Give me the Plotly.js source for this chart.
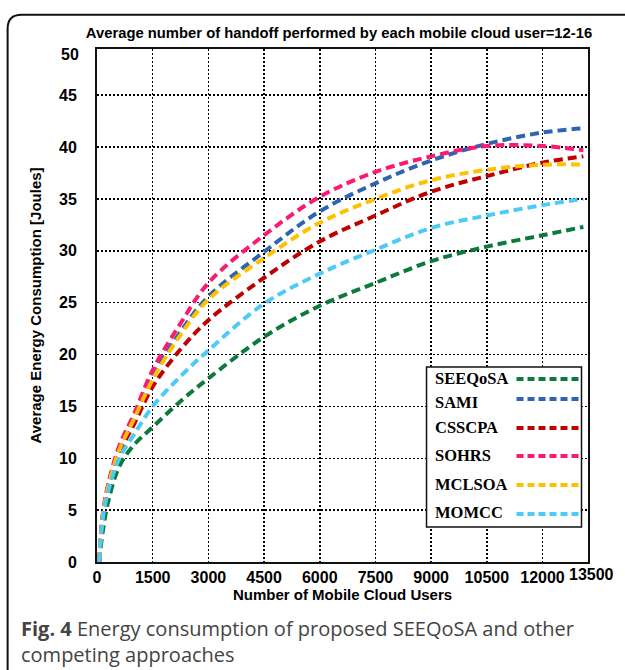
<!DOCTYPE html>
<html>
<head>
<meta charset="utf-8">
<script src="https://cdn.plot.ly/plotly-3.0.1.min.js"></script>
<style>html,body{margin:0;padding:0;background:#fff;}#chart{width:625px;height:670px;}</style>
</head>
<body>
<div id="chart"></div>
<script>
// ---- data ----
const users = [60, 150, 300, 600, 1000, 1500, 2250, 3000, 4500, 6000, 7500, 9000, 10500, 12000, 13100];
const seeqosa = [0, 2.8, 5.8, 9.2, 11.3, 13.0, 15.5, 17.7, 21.7, 24.7, 26.9, 29.0, 30.4, 31.5, 32.3];
const sami    = [0, 4.3, 7.3, 10.9, 14.0, 17.9, 22.2, 25.6, 29.9, 33.8, 36.5, 38.7, 40.3, 41.4, 41.8];
const csscpa  = [0, 4.2, 7.0, 10.5, 13.3, 16.9, 20.5, 23.3, 27.4, 30.9, 33.4, 35.7, 37.2, 38.5, 39.1];
const sohrs   = [0, 4.5, 7.5, 11.2, 14.3, 18.5, 23.0, 26.9, 31.5, 35.2, 37.6, 39.1, 40.1, 40.1, 39.7];
const mclsoa  = [0, 4.3, 7.2, 10.8, 13.8, 17.6, 21.9, 25.3, 29.3, 32.7, 35.0, 36.8, 37.8, 38.3, 38.3];
const momcc   = [0, 4.0, 6.8, 10.0, 12.3, 15.0, 17.9, 20.4, 24.9, 27.8, 30.1, 32.2, 33.4, 34.4, 35.0];

const seriesNames = ['SEEQoSA', 'SAMI', 'CSSCPA', 'SOHRS', 'MCLSOA', 'MOMCC'];
const seriesValues = [seeqosa, sami, csscpa, sohrs, mclsoa, momcc];
const seriesColors = ['#0b7a3b', '#2f64b0', '#c00000', '#fb1a72', '#ffc000', '#4ccbf8'];

const xTickVals = [0, 1500, 3000, 4500, 6000, 7500, 9000, 10500, 12000];
const xTickText = ['0', '1500', '3000', '4500', '6000', '7500', '9000', '10500', '12000'];
const xLastTick = '13500';
const yTickVals = [0, 5, 10, 15, 20, 25, 30, 35, 40, 45];
const yTickText = ['0', '5', '10', '15', '20', '25', '30', '35', '40', '45'];
const yLastTick = '50';

const titleText = 'Average number of handoff performed by each mobile cloud user=12-16';
const xTitle = 'Number of Mobile Cloud Users';
const yTitle = 'Average Energy Consumption [Joules]';
const captionText = '<b>Fig. 4</b> Energy consumption of proposed SEEQoSA and other<br>competing approaches';

// ---- layout geometry (pixels) ----
const W = 625, H = 670;
const L = 97.4, R = 588.5, T = 49.3, B = 562;
const px2x = p => (p - L) / (R - L);
const px2y = p => (B - p) / (B - T);

const SANS = '"Liberation Sans", Arial, sans-serif';
const dashStyle = '9px,5px';
const legDash = '7px,4px';

const traces = seriesNames.map((name, i) => ({
  type: 'scatter', mode: 'lines', name: name,
  x: users, y: seriesValues[i],
  line: {color: seriesColors[i], width: 4, dash: dashStyle, shape: 'spline', smoothing: 1},
  showlegend: false, hoverinfo: 'skip'
}));

const tickFont = {family: SANS, size: 16, color: '#000', weight: 'bold'};

const annotations = [
  {xref: 'paper', yref: 'paper', x: px2x(592), y: px2y(574), text: xLastTick, showarrow: false,
   xanchor: 'center', yanchor: 'middle', font: tickFont},
  {xref: 'paper', yref: 'paper', x: px2x(81), y: px2y(55), text: yLastTick, showarrow: false,
   xanchor: 'right', yanchor: 'middle', font: tickFont},
  {xref: 'paper', yref: 'paper', x: px2x(19), y: px2y(641), text: captionText, showarrow: false,
   xanchor: 'left', yanchor: 'middle', align: 'left',
   font: {family: '"Open Sans", "Noto Sans", sans-serif', size: 20, color: '#444'}}
];

// custom legend: text on left, dashed sample on right
const legTextY = [379, 403, 428, 456, 485, 513];
const legLineY = [379, 399, 428, 456, 485, 514];
const shapes = [
  {type: 'rect', xref: 'paper', yref: 'paper', x0: px2x(427), x1: px2x(582), y0: px2y(367), y1: px2y(527),
   line: {color: '#111', width: 1.5}, fillcolor: '#fff', layer: 'above'}
];
seriesNames.forEach((name, i) => {
  annotations.push({xref: 'paper', yref: 'paper', x: px2x(433), y: px2y(legTextY[i]), text: name,
    showarrow: false, xanchor: 'left', yanchor: 'middle',
    font: {family: '"Liberation Serif", "Times New Roman", serif', size: 16.5, color: '#000', weight: 'bold'}});
  shapes.push({type: 'line', xref: 'paper', yref: 'paper', x0: px2x(517), x1: px2x(579),
    y0: px2y(legLineY[i]), y1: px2y(legLineY[i]), layer: 'above',
    line: {color: seriesColors[i], width: 4, dash: legDash}});
});

// rounded outer frame (top-left corner visible)
const fx = px2x(8), fy = px2y(15), rx = 14 / (R - L), ry = 14 / (B - T);
shapes.push({type: 'path', xref: 'paper', yref: 'paper', layer: 'above',
  path: `M ${fx},${px2y(700)} L ${fx},${fy - ry} Q ${fx},${fy} ${fx + rx},${fy} L ${px2x(660)},${fy}`,
  line: {color: '#111', width: 2}});

const layout = {
  width: W, height: H,
  margin: {l: L, r: W - R, t: T, b: H - B, pad: 0},
  paper_bgcolor: '#fff', plot_bgcolor: '#fff',
  title: {text: titleText, x: 339 / W, xanchor: 'center', y: 1 - 33 / H, yanchor: 'middle',
          font: {family: SANS, size: 14.8, color: '#000', weight: 'bold'}},
  xaxis: {
    range: [0, 13225], tickmode: 'array', tickvals: xTickVals, ticktext: xTickText,
    showgrid: true, gridcolor: '#000', gridwidth: 1.5, griddash: '2px,2px', zeroline: false,
    showline: true, mirror: true, linecolor: '#111', linewidth: 2, ticks: '',
    tickfont: tickFont, ticklabelstandoff: 0,
    title: {text: xTitle, standoff: 2, font: {family: SANS, size: 15, color: '#000', weight: 'bold'}}
  },
  yaxis: {
    range: [0, 49.45], tickmode: 'array', tickvals: yTickVals, ticktext: yTickText,
    showgrid: true, gridcolor: '#000', gridwidth: 1.5, griddash: '2px,2px', zeroline: false,
    showline: true, mirror: true, linecolor: '#111', linewidth: 2, ticks: '',
    tickfont: tickFont, ticklabelstandoff: 15,
    title: {text: yTitle, standoff: 14, font: {family: SANS, size: 15, color: '#000', weight: 'bold'}}
  },
  annotations: annotations,
  shapes: shapes,
  showlegend: false
};

Plotly.newPlot('chart', traces, layout, {displayModeBar: false, staticPlot: true});
</script>
</body>
</html>
